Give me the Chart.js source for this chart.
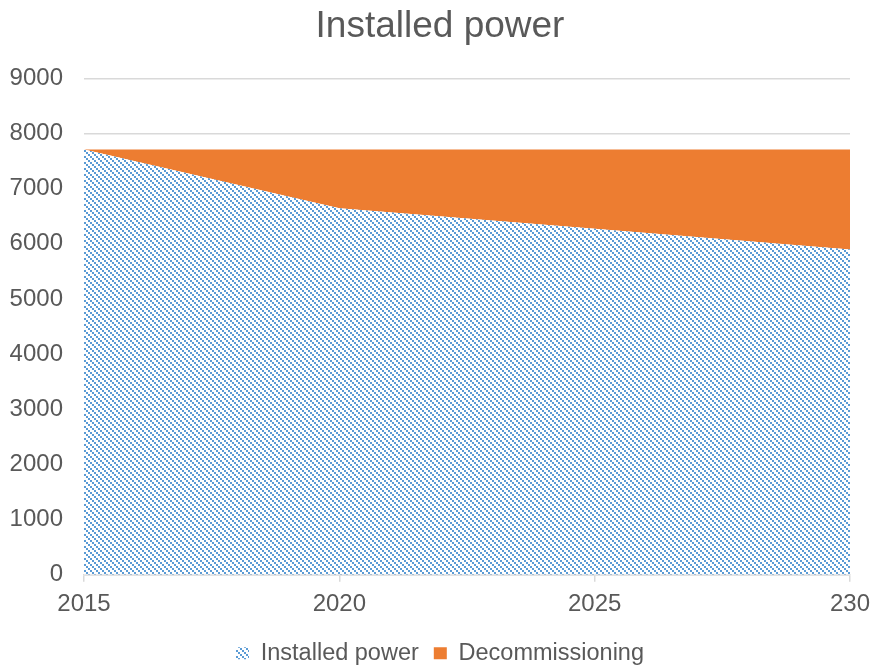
<!DOCTYPE html>
<html>
<head>
<meta charset="utf-8">
<title>Installed power</title>
<script src="https://cdn.jsdelivr.net/npm/chart.js@4.4.1/dist/chart.umd.min.js"></script>
<style>
  html, body { margin: 0; padding: 0; background: #ffffff; }
  #wrap { width: 872px; height: 666px; }
</style>
</head>
<body>
<div id="wrap"><canvas id="chart" width="872" height="666"></canvas></div>
<script>
// Years on the horizontal axis (last label printed as it appears in the source sheet)
const yearLabels = ['2015', '2020', '2025', '230'];
// Remaining installed capacity per year
const installedPower = [7710, 6645, 6275, 5895];
// Capacity taken out of service, stacked on top of the installed capacity
const decommissioning = [0, 1065, 1435, 1815];
// Value axis range
const yMin = 0;
const yMax = 9000;
const yStep = 1000;

const TEXT = '#595959';
const GRID = '#d9d9d9';
const ORANGE = '#ED7D31';
const BLUE = '#5B9BD5';
const FONT = "'Liberation Sans', Arial, sans-serif";

// Downward diagonal hatch used for the installed power area
function makeHatch() {
  const tile = document.createElement('canvas');
  tile.width = 6;
  tile.height = 6;
  const c = tile.getContext('2d');
  c.fillStyle = '#ffffff';
  c.fillRect(0, 0, 6, 6);
  c.fillStyle = BLUE;
  for (let i = 0; i < 3; i++) {
    c.fillRect(2 * i, 2 * i, 2, 2);
  }
  return c.createPattern(tile, 'repeat');
}

const ctx = document.getElementById('chart').getContext('2d');
const hatch = makeHatch();

new Chart(ctx, {
  type: 'line',
  data: {
    labels: yearLabels,
    datasets: [
      {
        label: 'Installed power',
        data: installedPower,
        backgroundColor: hatch,
        borderColor: 'rgba(0,0,0,0)',
        borderWidth: 0,
        pointRadius: 0,
        fill: 'origin',
        tension: 0
      },
      {
        label: 'Decommissioning',
        data: decommissioning,
        backgroundColor: ORANGE,
        borderColor: 'rgba(0,0,0,0)',
        borderWidth: 0,
        pointRadius: 0,
        fill: '-1',
        tension: 0
      }
    ]
  },
  options: {
    responsive: false,
    animation: false,
    devicePixelRatio: 1,
    layout: { padding: { left: 8, right: 0, top: 0, bottom: -9 } },
    plugins: {
      title: {
        display: true,
        text: 'Installed power',
        color: TEXT,
        font: { family: FONT, size: 37, weight: 'normal' },
        padding: { top: 5, bottom: 29 }
      },
      legend: {
        display: true,
        position: 'bottom',
        labels: {
          color: TEXT,
          font: { family: FONT, size: 23.5 },
          boxWidth: 13,
          boxHeight: 12,
          padding: 15
        }
      },
      tooltip: { enabled: false }
    },
    scales: {
      x: {
        type: 'category',
        offset: false,
        afterFit: (scale) => { scale.paddingRight = 22; },
        grid: {
          drawOnChartArea: false,
          drawTicks: true,
          tickLength: 7,
          color: GRID,
          lineWidth: 1.5
        },
        border: { display: true, color: GRID, width: 1.5 },
        ticks: {
          color: TEXT,
          font: { family: FONT, size: 24 },
          autoSkip: false,
          maxRotation: 0,
          padding: 8
        }
      },
      y: {
        stacked: true,
        min: yMin,
        max: yMax,
        afterFit: (scale) => { scale.width = 76; },
        grid: {
          color: GRID,
          lineWidth: 1.5,
          drawTicks: false
        },
        border: { display: false },
        ticks: {
          stepSize: yStep,
          color: TEXT,
          font: { family: FONT, size: 24 },
          padding: 21,
          callback: (value) => String(value)
        }
      }
    }
  }
});
</script>
</body>
</html>
